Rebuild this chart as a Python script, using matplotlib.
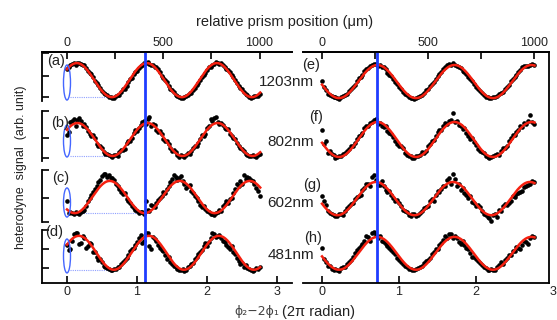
import numpy as np
import matplotlib.pyplot as plt
from matplotlib.patches import Ellipse

plt.rcParams["font.family"] = ["Liberation Sans", "DejaVu Sans"]

# sample positions, phi2 - 2 phi1 in units of 2 pi
PHASE = [0.00, 0.05, 0.10, 0.15, 0.20, 0.25, 0.30, 0.35, 0.40, 0.45,
         0.50, 0.55, 0.60, 0.65, 0.70, 0.75, 0.80, 0.85, 0.90, 0.95,
         1.00, 1.05, 1.10, 1.15, 1.20, 1.25, 1.30, 1.35, 1.40, 1.45,
         1.50, 1.55, 1.60, 1.65, 1.70, 1.75, 1.80, 1.85, 1.90, 1.95,
         2.00, 2.05, 2.10, 2.15, 2.20, 2.25, 2.30, 2.35, 2.40, 2.45,
         2.50, 2.55, 2.60, 2.65, 2.70, 2.75]
PHASE_HALF = [0.025, 0.075, 0.125, 0.175, 0.225, 0.275, 0.325, 0.375, 0.425, 0.475,
              0.525, 0.575, 0.625, 0.675, 0.725, 0.775, 0.825, 0.875, 0.925, 0.975,
              1.025, 1.075, 1.125, 1.175, 1.225, 1.275, 1.325, 1.375, 1.425, 1.475,
              1.525, 1.575, 1.625, 1.675, 1.725, 1.775, 1.825, 1.875, 1.925, 1.975,
              2.025, 2.075, 2.125, 2.175, 2.225, 2.275, 2.325, 2.375, 2.425, 2.475,
              2.525, 2.575, 2.625, 2.675, 2.725]

# heterodyne signal, arb. unit (0 = bottom of each strip, 1 = top)
SIG_A = [0.66, 0.75, 0.80, 0.79, 0.77, 0.74, 0.62, 0.56, 0.42, 0.33,
         0.21, 0.15, 0.08, 0.07, 0.10, 0.13, 0.24, 0.31, 0.45, 0.56,
         0.63, 0.73, 0.79, 0.82, 0.76, 0.71, 0.66, 0.53, 0.44, 0.31,
         0.23, 0.13, 0.09, 0.07, 0.11, 0.16, 0.22, 0.34, 0.43, 0.55,
         0.65, 0.71, 0.78, 0.80, 0.79, 0.70, 0.65, 0.54, 0.43, 0.32,
         0.24, 0.14, 0.09, 0.08, 0.11, 0.14]
SIG_A_HALF = [0.70, 0.77, 0.76, 0.80, 0.74, 0.69, 0.58, 0.50, 0.37, 0.28,
              0.17, 0.12, 0.09, 0.06, 0.13, 0.19, 0.26, 0.39, 0.48, 0.61,
              0.68, 0.76, 0.80, 0.77, 0.74, 0.70, 0.60, 0.48, 0.39, 0.26,
              0.19, 0.11, 0.07, 0.09, 0.12, 0.17, 0.28, 0.37, 0.50, 0.58,
              0.70, 0.74, 0.81, 0.78, 0.76, 0.67, 0.60, 0.49, 0.37, 0.28,
              0.18, 0.12, 0.07, 0.10, 0.10]
SIG_B = [0.52, 0.78, 0.84, 0.82, 0.80, 0.74, 0.60, 0.50, 0.46, 0.30,
         0.26, 0.14, 0.12, 0.08, 0.13, 0.19, 0.22, 0.36, 0.41, 0.56,
         0.60, 0.72, 0.80, 0.84, 0.70, 0.72, 0.58, 0.55, 0.40, 0.35,
         0.20, 0.18, 0.09, 0.11, 0.12, 0.15, 0.26, 0.30, 0.45, 0.50,
         0.66, 0.84, 0.86, 0.79, 0.77, 0.66, 0.65, 0.50, 0.44, 0.31,
         0.24, 0.15, 0.10, 0.12, 0.09, 0.14]
SIG_B_HALF = [0.58, 0.80, 0.70, 0.86, 0.70, 0.68, 0.55, 0.52, 0.34, 0.30,
              0.18, 0.15, 0.10, 0.12, 0.11, 0.22, 0.25, 0.40, 0.46, 0.62,
              0.66, 0.78, 0.74, 0.88, 0.74, 0.62, 0.60, 0.45, 0.40, 0.26,
              0.22, 0.12, 0.12, 0.08, 0.16, 0.20, 0.30, 0.36, 0.52, 0.55,
              0.70, 0.80, 0.88, 0.74, 0.72, 0.64, 0.55, 0.46, 0.36, 0.27,
              0.20, 0.13, 0.11, 0.10, 0.12]
SIG_C = [0.40, 0.20, 0.16, 0.18, 0.19, 0.24, 0.40, 0.52, 0.64, 0.76,
         0.88, 0.93, 0.90, 0.84, 0.74, 0.64, 0.53, 0.44, 0.36, 0.27,
         0.22, 0.19, 0.15, 0.24, 0.32, 0.28, 0.42, 0.50, 0.55, 0.70,
         0.82, 0.86, 0.84, 0.79, 0.66, 0.72, 0.55, 0.46, 0.33, 0.31,
         0.21, 0.16, 0.14, 0.20, 0.22, 0.35, 0.37, 0.47, 0.63, 0.70,
         0.73, 0.82, 0.84, 0.78, 0.66, 0.50]
SIG_C_HALF = [0.18, 0.17, 0.19, 0.16, 0.22, 0.30, 0.46, 0.58, 0.70, 0.80,
              0.92, 0.86, 0.84, 0.80, 0.70, 0.58, 0.55, 0.40, 0.30, 0.24,
              0.18, 0.20, 0.40, 0.22, 0.30, 0.36, 0.46, 0.58, 0.64, 0.76,
              0.90, 0.80, 0.88, 0.74, 0.70, 0.60, 0.50, 0.40, 0.28, 0.25,
              0.19, 0.15, 0.18, 0.24, 0.30, 0.40, 0.44, 0.56, 0.74, 0.78,
              0.90, 0.86, 0.80, 0.74, 0.60]
SIG_D = [0.72, 0.64, 0.92, 0.95, 0.76, 0.84, 0.70, 0.74, 0.58, 0.44,
         0.40, 0.31, 0.27, 0.24, 0.27, 0.30, 0.40, 0.47, 0.60, 0.66,
         0.78, 0.90, 0.80, 0.95, 0.64, 0.83, 0.72, 0.63, 0.52, 0.49,
         0.36, 0.30, 0.24, 0.26, 0.25, 0.33, 0.38, 0.50, 0.58, 0.70,
         0.70, 0.84, 0.93, 0.88, 0.85, 0.78, 0.68, 0.70, 0.55, 0.42,
         0.38, 0.34, 0.26, 0.22, 0.28, 0.30]
SIG_D_HALF = [0.62, 0.80, 0.94, 0.74, 0.88, 0.66, 0.76, 0.58, 0.50, 0.46,
              0.33, 0.28, 0.24, 0.27, 0.30, 0.36, 0.44, 0.52, 0.64, 0.72,
              0.84, 0.76, 0.94, 0.70, 0.86, 0.80, 0.66, 0.60, 0.45, 0.40,
              0.32, 0.27, 0.25, 0.23, 0.30, 0.36, 0.46, 0.55, 0.62, 0.76,
              0.78, 0.94, 0.86, 0.90, 0.80, 0.72, 0.64, 0.58, 0.48, 0.36,
              0.30, 0.28, 0.25, 0.24, 0.27]
SIG_E = [0.42, 0.22, 0.12, 0.09, 0.06, 0.08, 0.13, 0.21, 0.29, 0.42,
         0.50, 0.62, 0.68, 0.76, 0.78, 0.74, 0.70, 0.59, 0.52, 0.40,
         0.30, 0.19, 0.13, 0.06, 0.05, 0.08, 0.12, 0.22, 0.31, 0.40,
         0.53, 0.60, 0.70, 0.78, 0.80, 0.72, 0.68, 0.60, 0.49, 0.41,
         0.29, 0.21, 0.12, 0.08, 0.07, 0.09, 0.14, 0.19, 0.30, 0.41,
         0.49, 0.61, 0.70, 0.72, 0.76, 0.74]
SIG_E_HALF = [0.30, 0.15, 0.10, 0.08, 0.05, 0.11, 0.15, 0.26, 0.34, 0.47,
              0.55, 0.66, 0.72, 0.77, 0.73, 0.70, 0.66, 0.55, 0.45, 0.36,
              0.26, 0.15, 0.09, 0.07, 0.07, 0.10, 0.17, 0.24, 0.36, 0.46,
              0.57, 0.66, 0.74, 0.76, 0.74, 0.70, 0.63, 0.57, 0.46, 0.35,
              0.24, 0.17, 0.09, 0.06, 0.08, 0.10, 0.16, 0.25, 0.34, 0.46,
              0.55, 0.64, 0.72, 0.73, 0.78]
SIG_F = [0.62, 0.40, 0.20, 0.12, 0.08, 0.11, 0.16, 0.24, 0.30, 0.45,
         0.52, 0.66, 0.70, 0.79, 0.84, 0.76, 0.68, 0.60, 0.55, 0.40,
         0.30, 0.26, 0.12, 0.10, 0.06, 0.10, 0.18, 0.20, 0.35, 0.42,
         0.58, 0.62, 0.76, 0.80, 0.96, 0.80, 0.70, 0.66, 0.50, 0.46,
         0.33, 0.20, 0.16, 0.09, 0.08, 0.12, 0.13, 0.26, 0.31, 0.46,
         0.52, 0.62, 0.68, 0.74, 0.92, 0.74]
SIG_F_HALF = [0.34, 0.16, 0.14, 0.06, 0.10, 0.14, 0.20, 0.30, 0.36, 0.50,
              0.56, 0.70, 0.76, 0.82, 0.74, 0.70, 0.70, 0.56, 0.48, 0.34,
              0.30, 0.17, 0.10, 0.07, 0.10, 0.13, 0.16, 0.30, 0.40, 0.50,
              0.62, 0.70, 0.74, 0.82, 0.78, 0.72, 0.64, 0.56, 0.44, 0.38,
              0.24, 0.19, 0.10, 0.06, 0.11, 0.14, 0.20, 0.26, 0.40, 0.52,
              0.58, 0.70, 0.76, 0.80, 0.78]
SIG_G = [0.50, 0.32, 0.18, 0.14, 0.12, 0.16, 0.22, 0.30, 0.36, 0.48,
         0.52, 0.66, 0.74, 0.86, 0.80, 0.72, 0.70, 0.58, 0.52, 0.40,
         0.36, 0.24, 0.20, 0.12, 0.16, 0.13, 0.22, 0.28, 0.40, 0.41,
         0.60, 0.64, 0.70, 0.84, 0.92, 0.70, 0.62, 0.56, 0.47, 0.38,
         0.30, 0.28, 0.16, 0.10, 0.02, 0.15, 0.23, 0.30, 0.32, 0.40,
         0.48, 0.56, 0.60, 0.70, 0.74, 0.76]
SIG_G_HALF = [0.40, 0.22, 0.15, 0.12, 0.16, 0.14, 0.26, 0.34, 0.44, 0.50,
              0.62, 0.74, 0.70, 0.90, 0.72, 0.78, 0.62, 0.60, 0.46, 0.42,
              0.30, 0.22, 0.14, 0.16, 0.12, 0.18, 0.26, 0.30, 0.44, 0.52,
              0.58, 0.70, 0.80, 0.74, 0.82, 0.74, 0.66, 0.52, 0.50, 0.36,
              0.32, 0.22, 0.14, 0.08, 0.14, 0.10, 0.22, 0.34, 0.36, 0.50,
              0.54, 0.58, 0.68, 0.72, 0.78]
SIG_H = [0.66, 0.40, 0.32, 0.25, 0.24, 0.28, 0.30, 0.40, 0.50, 0.62,
         0.70, 0.80, 0.86, 0.94, 0.90, 0.88, 0.78, 0.70, 0.62, 0.55,
         0.44, 0.36, 0.30, 0.27, 0.24, 0.28, 0.33, 0.41, 0.48, 0.58,
         0.64, 0.76, 0.88, 0.92, 0.85, 0.84, 0.74, 0.72, 0.64, 0.50,
         0.46, 0.38, 0.30, 0.25, 0.26, 0.25, 0.34, 0.36, 0.48, 0.52,
         0.60, 0.66, 0.72, 0.78, 0.84, 0.86]
SIG_H_HALF = [0.46, 0.32, 0.26, 0.26, 0.22, 0.30, 0.36, 0.44, 0.56, 0.66,
              0.74, 0.88, 0.80, 0.96, 0.84, 0.80, 0.74, 0.66, 0.58, 0.48,
              0.40, 0.33, 0.26, 0.25, 0.27, 0.30, 0.38, 0.44, 0.54, 0.64,
              0.72, 0.82, 0.84, 0.92, 0.88, 0.78, 0.80, 0.66, 0.56, 0.50,
              0.42, 0.34, 0.28, 0.24, 0.24, 0.30, 0.40, 0.44, 0.52, 0.60,
              0.68, 0.64, 0.80, 0.74, 0.88]

LEFT_SIGNALS = [(SIG_A, SIG_A_HALF), (SIG_B, SIG_B_HALF),
                (SIG_C, SIG_C_HALF), (SIG_D, SIG_D_HALF)]
RIGHT_SIGNALS = [(SIG_E, SIG_E_HALF), (SIG_F, SIG_F_HALF),
                 (SIG_G, SIG_G_HALF), (SIG_H, SIG_H_HALF)]
LEFT_LABELS = ["(a)", "(b)", "(c)", "(d)"]
RIGHT_LABELS = ["(e)", "(f)", "(g)", "(h)"]
WAVELENGTHS = ["1203nm", "802nm", "602nm", "481nm"]

# sinusoidal fits: offset, amplitude, phase of a maximum
LEFT_FIT_OFFSET = [0.435, 0.43, 0.48, 0.57]
LEFT_FIT_AMP = [0.355, 0.33, 0.31, 0.32]
LEFT_FIT_PEAK = [0.14, 0.15, 0.61, 0.17]
RIGHT_FIT_OFFSET = [0.405, 0.43, 0.45, 0.56]
RIGHT_FIT_AMP = [0.345, 0.35, 0.32, 0.31]
RIGHT_FIT_PEAK = [0.72, 0.72, 0.70, 0.72]
FIT_PERIOD = 1.0
FIT_END = 2.76

MARKER_PHASE = [1.12, 0.714]      # blue vertical lines (left, right)
UM_PER_PHASE = 1000 / 2.75        # prism position scale

# start-point ellipses and dotted guides in the left column
ELLIPSE_MID = [0.385, 0.40, 0.375, 0.51]
ELLIPSE_HEIGHT = [0.73, 0.64, 0.56, 0.64]
GUIDE_LEVEL = [0.08, 0.10, 0.17, 0.25]
GUIDE_END = [0.60, 0.62, 1.10, 0.62]
BRACKET_TICKS = [[0.08, 0.52, 1.0], [0.06, 0.46, 1.0],
                 [0.0, 0.46, 1.0], [0.28, 0.64, 1.0]]

W, H = 557, 320
RED = "#f52010"
BLUE = "#1f3cff"
TXT = "#222222"


def rect(x0, x1, y0, y1):
    return [x0 / W, 1 - y1 / H, (x1 - x0) / W, (y1 - y0) / H]


def ph2um(p):
    return np.asarray(p) * UM_PER_PHASE


def um2ph(u):
    return np.asarray(u) / UM_PER_PHASE


fig = plt.figure(figsize=(W / 100, H / 100), dpi=100)

columns = [
    dict(x0=42, x1=292, xlim=(-0.357, 3.214), sig=LEFT_SIGNALS,
         off=LEFT_FIT_OFFSET, amp=LEFT_FIT_AMP, peak=LEFT_FIT_PEAK),
    dict(x0=303, x1=549, xlim=(-0.247, 2.948), sig=RIGHT_SIGNALS,
         off=RIGHT_FIT_OFFSET, amp=RIGHT_FIT_AMP, peak=RIGHT_FIT_PEAK),
]
bands = [(53, 101), (111, 161), (170, 222), (230, 283)]
xfit = np.linspace(0, FIT_END, 300)

frames = []
for j, col in enumerate(columns):
    for i, (y0, y1) in enumerate(bands):
        ax = fig.add_axes(rect(col["x0"], col["x1"], y0, y1))
        ax.patch.set_visible(False)
        ax.set_xlim(*col["xlim"])
        ax.set_ylim(0, 1)
        for s in ["top", "right", "bottom"]:
            ax.spines[s].set_visible(False)
        ax.set_xticks([])
        if j == 0:
            ax.spines["left"].set_linewidth(1.3)
            ax.set_yticks(BRACKET_TICKS[i])
            ax.tick_params(axis="y", direction="in", length=5, width=1.2,
                           labelleft=False)
            ax.add_patch(Ellipse((0, ELLIPSE_MID[i]), 0.1, ELLIPSE_HEIGHT[i],
                                 fill=False, ec="#4466ff", lw=1.0, zorder=4))
            ax.plot([0.05, GUIDE_END[i]], [GUIDE_LEVEL[i]] * 2,
                    ls=(0, (1, 1)), color="#8fa0ff", lw=0.8, zorder=1)
        else:
            ax.spines["left"].set_visible(False)
            ax.set_yticks([])
        full, half = col["sig"][i]
        ax.scatter(PHASE, full, s=11, c="black", linewidths=0,
                   clip_on=False, zorder=2)
        ax.scatter(PHASE_HALF, half, s=11, c="black", linewidths=0,
                   clip_on=False, zorder=2)
        yfit = col["off"][i] + col["amp"][i] * np.cos(
            2 * np.pi * (xfit - col["peak"][i]) / FIT_PERIOD)
        ax.plot(xfit, yfit, color=RED, lw=1.8, clip_on=False, zorder=3)

    fr = fig.add_axes(rect(col["x0"], col["x1"], 52, 283))
    fr.set_zorder(5)
    fr.patch.set_visible(False)
    fr.set_xlim(*col["xlim"])
    fr.set_yticks([])
    fr.spines["left"].set_visible(False)
    fr.spines["right"].set_visible(j == 1)
    for s in ["top", "bottom", "right"]:
        fr.spines[s].set_linewidth(1.3)
    fr.set_xticks([0, 1, 2, 3] if j == 0 else [0, 1, 2])
    fr.tick_params(axis="x", direction="in", length=5, width=1.2, pad=2.5,
                   labelsize=9, labelcolor=TXT)
    fr.axvline(MARKER_PHASE[j], color=BLUE, lw=2.0)
    top = fr.secondary_xaxis("top", functions=(ph2um, um2ph))
    top.spines["top"].set_linewidth(1.3)
    top.set_xticks([0, 500, 1000])
    top.set_xticks([250, 750], minor=True)
    top.tick_params(axis="x", which="both", direction="in", length=5,
                    width=1.2, pad=2.5, labelsize=9, labelcolor=TXT)
    frames.append(fr)

# partially visible "3" at the right edge
frames[1].text(3.0, -0.012, "3", transform=frames[1].get_xaxis_transform(),
               ha="center", va="top", fontsize=9, color=TXT)

label_pos_left = [(56, 61), (60, 123), (61, 178), (54, 232)]
label_pos_right = [(311, 65), (316, 117), (312, 185), (313, 238)]
wave_y = [82, 142, 203, 255]
for i in range(4):
    x, y = label_pos_left[i]
    fig.text(x / W, 1 - y / H, LEFT_LABELS[i], ha="center", va="center",
             fontsize=10.5, color=TXT)
    x, y = label_pos_right[i]
    fig.text(x / W, 1 - y / H, RIGHT_LABELS[i], ha="center", va="center",
             fontsize=10.5, color=TXT)
    fig.text(314 / W, 1 - wave_y[i] / H, WAVELENGTHS[i], ha="right",
             va="center", fontsize=11, color=TXT)

fig.text(285 / W, 1 - 22 / H, "relative prism position (\u03bcm)",
         ha="center", va="center", fontsize=10.5, color=TXT)
fig.text(279 / W, 1 - 312 / H, "\u03d5\u2082\u22122\u03d5\u2081",
         ha="right", va="center", fontsize=9, color="#444444",
         family=["DejaVu Sans"])
fig.text(282 / W, 1 - 312 / H, "(2\u03c0 radian)",
         ha="left", va="center", fontsize=10.5, color=TXT)
fig.text(21 / W, 1 - 167 / H, "heterodyne  signal  (arb. unit)",
         rotation=90, ha="center", va="center", fontsize=9, color=TXT)

fig.savefig("out.png", dpi=100)
